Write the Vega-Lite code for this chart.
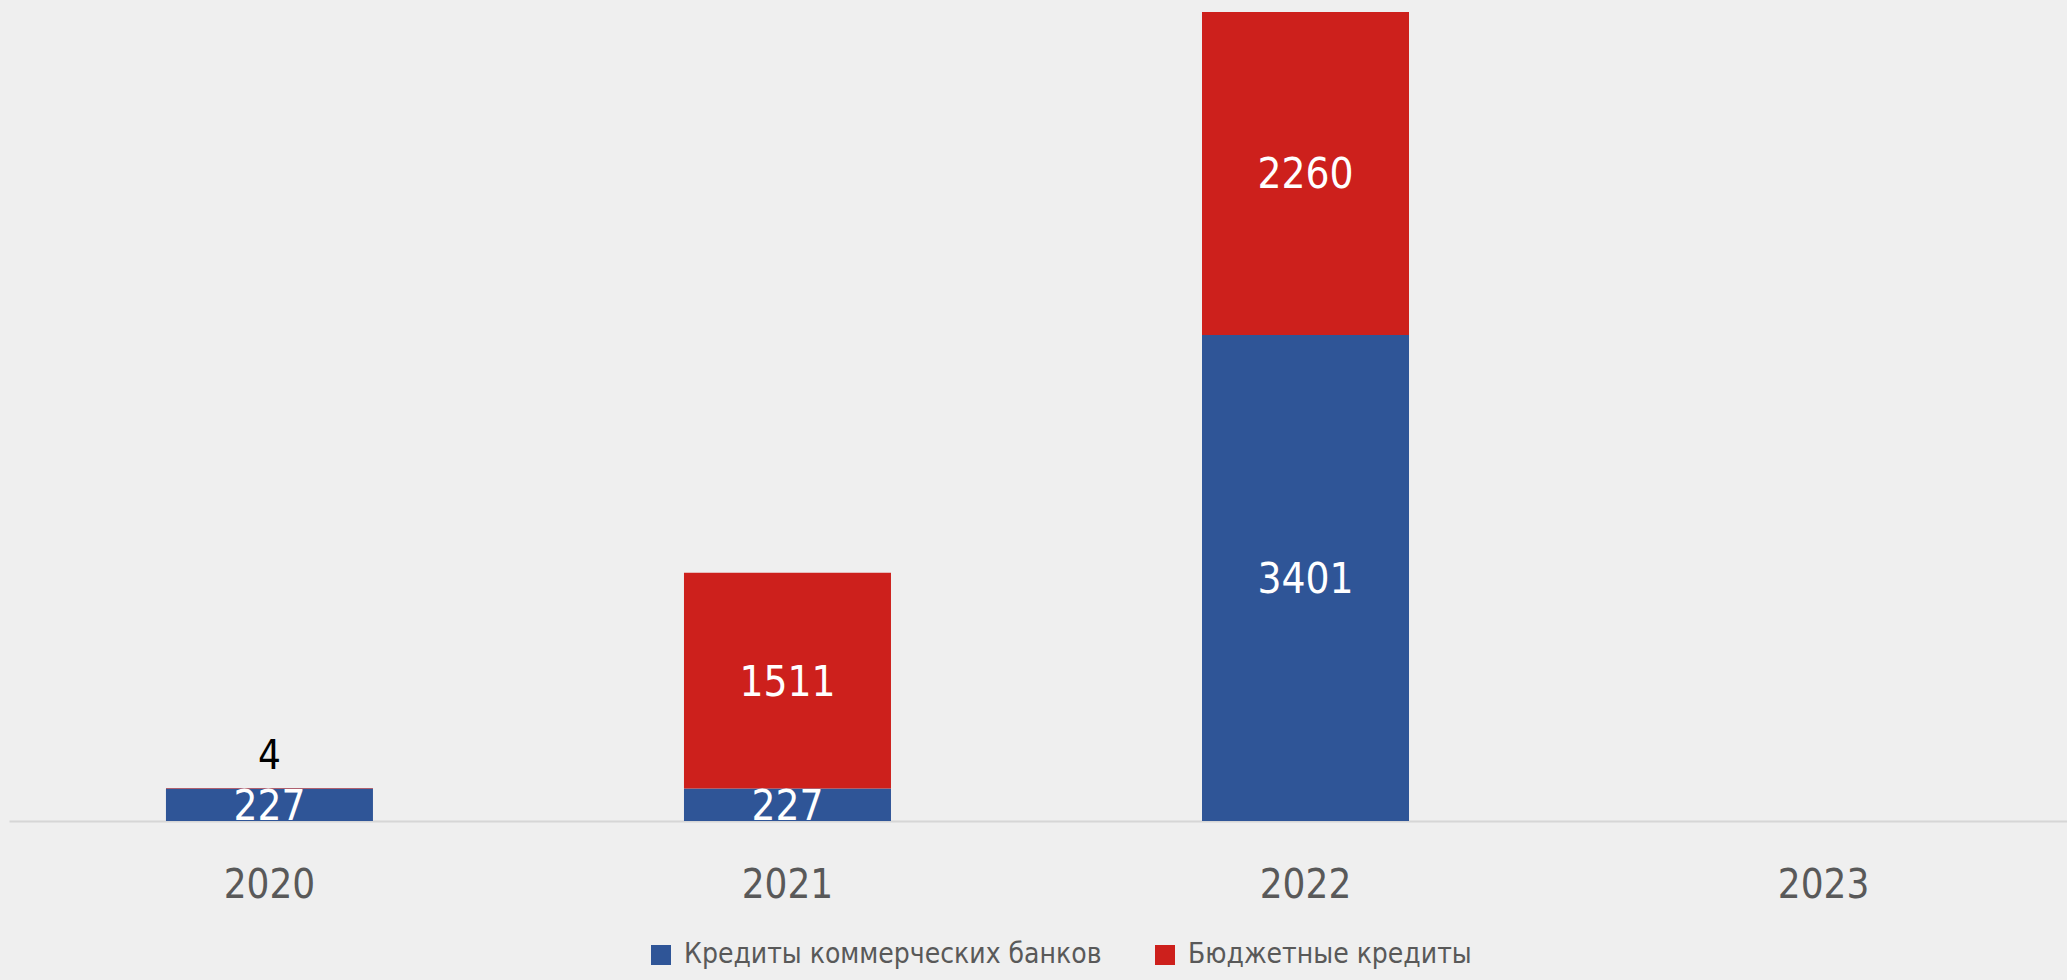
{
  "$schema": "https://vega.github.io/schema/vega-lite/v6.json",
  "autosize": "none",
  "width": 2058,
  "height": 821,
  "padding": {"left": 9, "top": 0, "right": 0, "bottom": 159},
  "background": "#efefef",
  "config": {
    "view": {"stroke": null},
    "font": "DejaVu Sans Condensed, Liberation Sans Narrow, sans-serif"
  },
  "data": {
    "values": [
      {"year": "2020", "type": "Кредиты коммерческих банков", "value": 227},
      {"year": "2020", "type": "Бюджетные кредиты", "value": 4},
      {"year": "2021", "type": "Кредиты коммерческих банков", "value": 227},
      {"year": "2021", "type": "Бюджетные кредиты", "value": 1511},
      {"year": "2022", "type": "Кредиты коммерческих банков", "value": 3401},
      {"year": "2022", "type": "Бюджетные кредиты", "value": 2260}
    ]
  },
  "transform": [
    {"stack": "value", "groupby": ["year"], "as": ["v0", "v1"], "sort": [{"field": "type", "order": "descending"}]},
    {"calculate": "(datum.v0 + datum.v1) / 2", "as": "mid"}
  ],
  "encoding": {
    "x": {
      "field": "year", "type": "nominal",
      "scale": {"domain": ["2020", "2021", "2022", "2023"], "paddingInner": 0.6004, "paddingOuter": 0.2866, "align": 0.5286},
      "axis": {
        "title": null, "labelAngle": 0, "ticks": false, "tickSize": 0,
        "domainColor": "#d6d6d6", "domainWidth": 2,
        "labelFontSize": 40, "labelColor": "#595959", "labelBaseline": "middle", "labelPadding": 64,
        "labelFont": "DejaVu Sans Condensed, Liberation Sans Narrow, sans-serif"
      }
    }
  },
  "layer": [
    {
      "mark": {"type": "bar"},
      "encoding": {
        "y": {"field": "v0", "type": "quantitative", "scale": {"domain": [0, 5745], "nice": false}, "axis": null},
        "y2": {"field": "v1"},
        "color": {
          "field": "type", "type": "nominal",
          "scale": {"domain": ["Кредиты коммерческих банков", "Бюджетные кредиты"], "range": ["#2F5597", "#CD201C"]},
          "legend": {
            "title": null, "orient": "none", "direction": "horizontal", "legendX": 638, "legendY": 941,
            "symbolType": "square", "symbolSize": 400, "symbolStrokeWidth": 0, "symbolOpacity": 1,
            "labelFontSize": 28, "labelColor": "#595959", "labelOffset": 9, "columnPadding": 49,
            "labelLimit": 1000, "padding": 0,
            "labelFont": "DejaVu Sans Condensed, Liberation Sans Narrow, sans-serif"
          }
        }
      }
    },
    {
      "transform": [{"filter": "datum.value >= 50"}],
      "mark": {"type": "text", "color": "white", "fontSize": 42, "baseline": "middle", "align": "center", "dy": 2},
      "encoding": {
        "y": {"field": "mid", "type": "quantitative"},
        "text": {"field": "value", "type": "quantitative", "format": "d"}
      }
    },
    {
      "transform": [{"filter": "datum.value < 50"}],
      "mark": {"type": "text", "color": "black", "fontSize": 40, "baseline": "middle", "align": "center", "dy": -31},
      "encoding": {
        "y": {"field": "v1", "type": "quantitative"},
        "text": {"field": "value", "type": "quantitative", "format": "d"}
      }
    }
  ]
}
